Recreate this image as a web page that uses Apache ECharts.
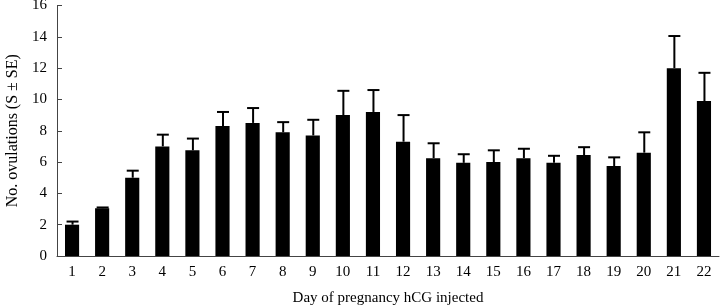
<!DOCTYPE html>
<html>
<head>
<meta charset="utf-8">
<script src="https://cdn.jsdelivr.net/npm/echarts@6/dist/echarts.min.js"></script>
<style>
html,body{margin:0;padding:0;background:#fff;}
#main{width:720px;height:308px;}
</style>
</head>
<body>
<div id="main"></div>
<script>
var days = ["1","2","3","4","5","6","7","8","9","10","11","12","13","14","15","16","17","18","19","20","21","22"];
var means = [2.0,3.05,5.0,7.0,6.75,8.3,8.5,7.9,7.7,9.0,9.2,7.3,6.25,5.95,6.0,6.25,5.95,6.45,5.75,6.6,12.0,9.9];
var errs = [0.2,0.05,0.45,0.75,0.75,0.9,0.95,0.65,1.0,1.55,1.4,1.7,0.95,0.55,0.75,0.6,0.45,0.5,0.55,1.3,2.05,1.8];
var yTicks = [0,2,4,6,8,10,12,14,16];

var errData = [];
for(var i=0;i<days.length;i++){
    errData.push([i, means[i], means[i]+errs[i]]);
}

var font = "Liberation Serif";
var chart = echarts.init(document.getElementById("main"));
chart.setOption({
    animation:false,
    grid:{left:57,right:1,top:5.5,bottom:52,outerBoundsMode:'none',containLabel:false},
    xAxis:{
        type:'category',
        data:days,
        boundaryGap:true,
        name:'Day of pregnancy hCG injected',
        nameLocation:'middle',
        nameGap:35,
        nameTextStyle:{fontFamily:font,fontSize:15,color:'#000'},
        axisLine:{lineStyle:{color:'#444',width:1}},
        axisTick:{inside:true,length:4,lineStyle:{color:'#444'}},
        axisLabel:{fontFamily:font,fontSize:15,color:'#000',margin:9,interval:0}
    },
    yAxis:{
        type:'value',
        min:yTicks[0],
        max:yTicks[yTicks.length-1],
        interval:2,
        name:'No. ovulations (S \u00b1 SE)',
        nameLocation:'middle',
        nameGap:36,
        nameTextStyle:{fontFamily:font,fontSize:16,color:'#000'},
        splitLine:{show:false},
        axisLine:{show:true,lineStyle:{color:'#444',width:1}},
        axisTick:{show:true,inside:true,length:5,lineStyle:{color:'#444'}},
        axisLabel:{fontFamily:font,fontSize:15,color:'#000',margin:10}
    },
    series:[
        {
            type:'bar',
            data:means,
            barWidth:'47%',
            itemStyle:{color:'#000'}
        },
        {
            type:'custom',
            data:errData,
            z:1,
            renderItem:function(params,api){
                var lo = api.coord([api.value(0),api.value(1)]);
                var hi = api.coord([api.value(0),api.value(2)]);
                var x = lo[0]+0.5;
                return {
                    type:'group',
                    children:[
                        {type:'line',shape:{x1:x,y1:lo[1],x2:x,y2:hi[1]},style:{stroke:'#000',lineWidth:2}},
                        {type:'line',shape:{x1:x-6,y1:hi[1],x2:x+6,y2:hi[1]},style:{stroke:'#000',lineWidth:2}}
                    ]
                };
            }
        }
    ]
});
</script>
</body>
</html>
